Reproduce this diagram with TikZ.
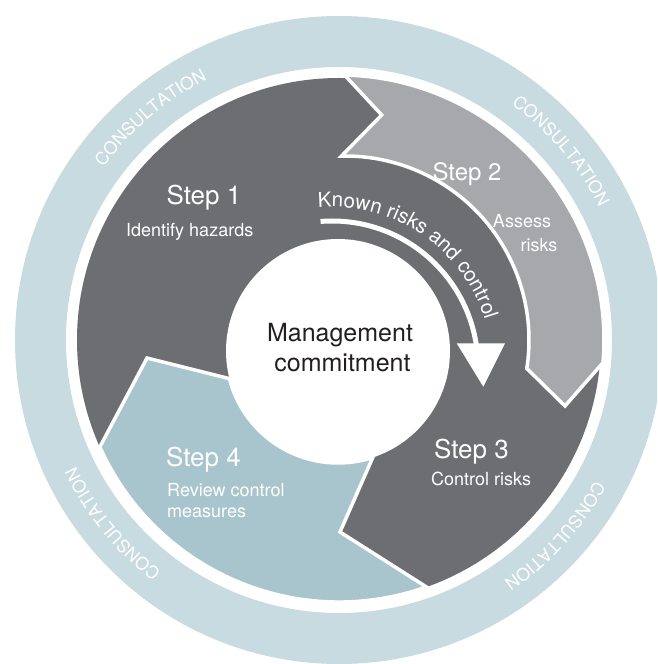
\documentclass[tikz,border=0pt]{standalone}
\usepackage{fontspec}
\setmainfont{TeX Gyre Heros}
\usetikzlibrary{calc,decorations.text}
\definecolor{ringc}{HTML}{C8DBE0}
\definecolor{darkc}{HTML}{6D6E72}
\definecolor{greyc}{HTML}{A7A8AC}
\definecolor{bluec}{HTML}{A8C5CD}
\definecolor{inkc}{HTML}{231F20}
\tikzset{
  segment/.style={draw=white, line width=3.5, line join=miter},
  steplbl/.style={text=white, font=\fontsize{26}{30}\selectfont, inner sep=0, anchor=base},
  desclbl/.style={text=white, font=\fontsize{18}{22}\selectfont, inner sep=0, anchor=base},
  midlbl/.style={text=inkc, font=\fontsize{25}{30}\selectfont, inner sep=0, anchor=base},
  ringtext/.style={decorate, decoration={text along path, text align=center,
    text={|\fontsize{17.5}{20}\selectfont\color{white}|CONSULTATION}}}
}
\begin{document}
\begin{tikzpicture}[x=1pt,y=1pt]
\useasboundingbox (0,0) rectangle (657,664);
\clip (0,0) rectangle (657,664);
\coordinate (O) at (339,324);
\coordinate (C) at (338,313);
\coordinate (S) at (345,324);
\coordinate (B) at (332,297);
% outer consultation ring
\fill[ringc, even odd rule] (O) circle[radius=324] (O) circle[radius=273];
% dark disc (steps 1 and 3)
\fill[darkc] (O) circle[radius=262];
% step 2
\filldraw[segment, fill=greyc] ($(O)+(88.8:265)$) arc[start angle=88.8, end angle=-4.9, radius=265]
  -- (565,258) -- ($(S)+(-8.9:184)$) arc[start angle=-8.9, end angle=91.1, radius=184]
  -- (381.7,549) -- cycle;
% step 4
\filldraw[segment, fill=bluec] (147,306) -- ($(C)+(194.3:112)$) arc[start angle=194.3, end angle=288.1, radius=112]
  -- (340,132) -- ($(O)+(-70.5:262)$) arc[start angle=-70.5, end angle=-155.9, radius=262] -- cycle;
% centre circle
\fill[white] (C) circle[radius=112];
% known risks arrow
\draw[white, line width=5] ($(B)+(94.5:146)$) arc[start angle=94.5, end angle=9, radius=146];
\fill[white] (456.7,320.7) -- (505,320.7) -- (483.3,277.3) -- cycle;
\path[decorate, decoration={text along path, text align=left,
  text={|\fontsize{20.5}{24}\selectfont\color{white}|Known risks and control}}]
  ($(B)+(95:160)$) arc[start angle=95, end angle=0, radius=160];
% consultation labels
\foreach \m in {130.3,40.4,-42.2,-140.9}
  \path[ringtext] ($(O)+(\m+40:292)$) arc[start angle=\m+40, end angle=\m-40, radius=292];
% labels
\node[steplbl] (s1) at (204,459) {Step 1};
\node[desclbl, anchor=base west] (d1) at (126,427) {Identify hazards};
\node[steplbl, font=\fontsize{24}{28}\selectfont] (s2) at (467,483) {Step 2};
\node[desclbl] (d2a) at (522,436) {Assess};
\node[desclbl] (d2b) at (539,412) {risks};
\node[steplbl] (s3) at (471.5,205) {Step 3};
\node[desclbl, anchor=base west] (d3) at (431,178) {Control risks};
\node[steplbl] (s4) at (203.5,197) {Step 4};
\node[desclbl, anchor=base west] (d4a) at (167,167) {Review control};
\node[desclbl, anchor=base west] (d4b) at (167,146) {measures};
\node[midlbl] (m1) at (340,322) {Management};
\node[midlbl] (m2) at (342.5,292) {commitment};
\end{tikzpicture}
\end{document}
